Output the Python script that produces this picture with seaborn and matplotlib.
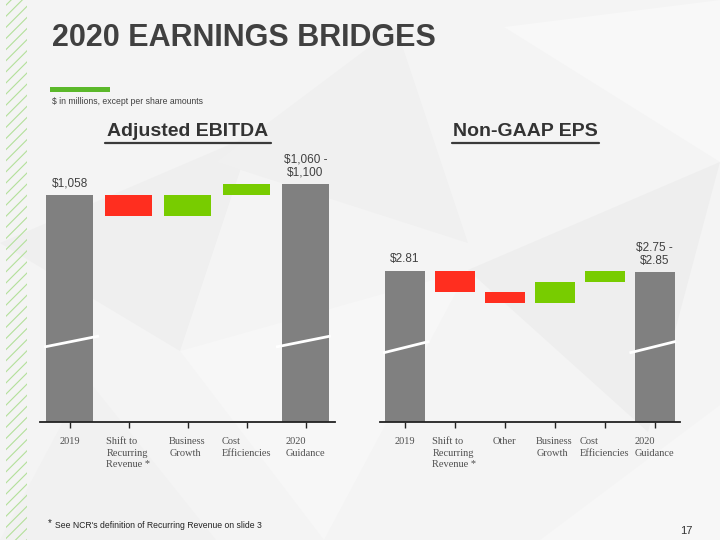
import matplotlib
matplotlib.use("Agg")
import matplotlib.pyplot as plt
import seaborn as sns
import numpy as np
from matplotlib.patches import Rectangle, Polygon

# Adjusted EBITDA bridge ($ in millions)
ebitda_cats = ["2019", "Shift to\nRecurring\nRevenue *", "Business\nGrowth",
               "Cost\nEfficiencies", "2020\nGuidance"]
ebitda_vals = [1058, -42, 42, 22, 1080]
ebitda_kind = ["total", "step", "step", "step", "total"]
ebitda_labels = ["$1,058", "", "", "", "$1,060 -\n$1,100"]

# Non-GAAP EPS bridge ($ per share)
eps_cats = ["2019", "Shift to\nRecurring\nRevenue *", "Other", "Business\nGrowth",
            "Cost\nEfficiencies", "2020\nGuidance"]
eps_vals = [2.81, -0.20, -0.10, 0.20, 0.10, 2.80]
eps_kind = ["total", "step", "step", "step", "step", "total"]
eps_labels = ["$2.81", "", "", "", "", "$2.75 -\n$2.85"]

GREY = "#808080"
RED = "#ff2e1f"
GREEN = "#78cc00"
TEXT = "#404040"

sns.set_style("white")
plt.rcParams["font.family"] = ["Liberation Sans", "DejaVu Sans"]

fig = plt.figure(figsize=(7.2, 5.4), dpi=100)
fig.patch.set_facecolor("#f4f4f4")

# faint low-poly background
polys = [
    ([(0.0, 0.55), (0.35, 0.75), (0.25, 0.35)], "#efefef"),
    ([(0.25, 0.35), (0.65, 0.5), (0.45, 0.0)], "#f7f7f7"),
    ([(0.3, 0.7), (0.65, 0.55), (0.55, 0.95)], "#f0f0f0"),
    ([(0.65, 0.5), (1.0, 0.7), (0.9, 0.2)], "#eeeeee"),
    ([(0.7, 0.95), (1.0, 1.0), (1.0, 0.7)], "#f8f8f8"),
    ([(0.0, 0.0), (0.3, 0.0), (0.12, 0.3)], "#f1f1f1"),
    ([(0.75, 0.0), (1.0, 0.0), (1.0, 0.25)], "#f7f7f7"),
]
for pts, c in polys:
    fig.patches.append(Polygon(pts, closed=True, transform=fig.transFigure,
                               facecolor=c, edgecolor="none", zorder=-10))

# green hatched stripe on the left edge
plt.rcParams["hatch.linewidth"] = 0.8
fig.patches.append(Rectangle((6 / 720, 0), 21 / 720, 1, transform=fig.transFigure,
                             facecolor="none", edgecolor="#b3e09a", hatch="///",
                             linewidth=0, zorder=-5))

# header
fig.text(52 / 720, 1 - 38 / 540, "2020 EARNINGS BRIDGES", fontweight="bold",
         fontsize=22, color=TEXT, va="center", ha="left")
fig.patches.append(Rectangle((50 / 720, 1 - 92 / 540), 60 / 720, 5 / 540,
                             transform=fig.transFigure, facecolor="#5bb82a",
                             edgecolor="none"))
fig.text(52 / 720, 1 - 101 / 540, "$ in millions, except per share amounts",
         fontsize=6.2, color=TEXT, va="center", ha="left")


def waterfall(vals, kinds, floor):
    bottoms, heights, colors = [], [], []
    run = 0
    for v, k in zip(vals, kinds):
        if k == "total":
            bottoms.append(floor)
            heights.append(v - floor)
            colors.append(GREY)
            run = v
        else:
            bottoms.append(min(run, run + v))
            heights.append(abs(v))
            colors.append(GREEN if v > 0 else RED)
            run += v
    return bottoms, heights, colors


def draw_bridge(ax, cats, vals, kinds, labels, ylim, brk, title, title_x, title_w):
    bottoms, heights, colors = waterfall(vals, kinds, ylim[0])
    sns.barplot(x=cats, y=heights, bottom=bottoms, color=GREY, width=0.8,
                errorbar=None, ax=ax, linewidth=0, zorder=2)
    for p, c in zip(ax.patches, colors):
        p.set_facecolor(c)
    ax.set_xlim(-0.5, len(cats) - 0.5)
    ax.set_ylim(*ylim)
    ax.set_facecolor("none")
    for s in ["top", "right", "left"]:
        ax.spines[s].set_visible(False)
    ax.spines["bottom"].set_color("#222222")
    ax.spines["bottom"].set_linewidth(1.3)
    ax.set_yticks([])
    ax.tick_params(axis="x", bottom=True, length=4, width=1, color="#222222",
                   pad=7, labelsize=7.5, labelcolor="#505050")
    for t in ax.get_xticklabels():
        t.set_family(["Liberation Serif", "DejaVu Serif"])
        t.set_multialignment("left")
        t.set_verticalalignment("top")
        t.set_linespacing(1.35)
    # value labels and axis-break marks on the total bars
    for i, (v, k, lab) in enumerate(zip(vals, kinds, labels)):
        if k != "total":
            continue
        ax.annotate(lab, (i, v), xytext=(0, 4), textcoords="offset points",
                    ha="center", va="bottom", fontsize=8.5, color=TEXT,
                    linespacing=1.05)
        if i == 0:
            xs = [i - 0.43, i + 0.5]
        else:
            xs = [i - 0.5, i + 0.43]
        ax.plot(xs, brk, color="white", lw=2, solid_capstyle="butt", zorder=3,
                clip_on=False)
    # section title with underline
    fig.text(title_x / 720, 1 - 131 / 540, title, fontsize=14, fontweight="bold",
             color="#333333", ha="center", va="center")
    fig.add_artist(plt.Line2D([(title_x - title_w / 2) / 720, (title_x + title_w / 2) / 720],
                              [1 - 143 / 540, 1 - 143 / 540], color="#3a3a3a", lw=1.6))


ax1 = fig.add_axes([40 / 720, 118 / 540, 295 / 720, 282 / 540])
draw_bridge(ax1, ebitda_cats, ebitda_vals, ebitda_kind, ebitda_labels,
            (604, 1168), [754, 776], "Adjusted EBITDA", 188, 166)

ax2 = fig.add_axes([379.5 / 720, 118 / 540, 300 / 720, 282 / 540])
draw_bridge(ax2, eps_cats, eps_vals, eps_kind, eps_labels,
            (1.372, 4.058), [2.03, 2.14], "Non-GAAP EPS", 525, 147)

# footnote and page number
fig.text(48 / 720, 1 - 523 / 540, "*", fontsize=7, color="#222222", va="center")
fig.text(55 / 720, 1 - 525 / 540, "See NCR's definition of Recurring Revenue on slide 3",
         fontsize=6.2, color="#222222", va="center")
fig.text(692 / 720, 1 - 531 / 540, "17", fontsize=8, color="#333333",
         ha="right", va="center")

fig.savefig("out.png", dpi=100, facecolor=fig.get_facecolor())
